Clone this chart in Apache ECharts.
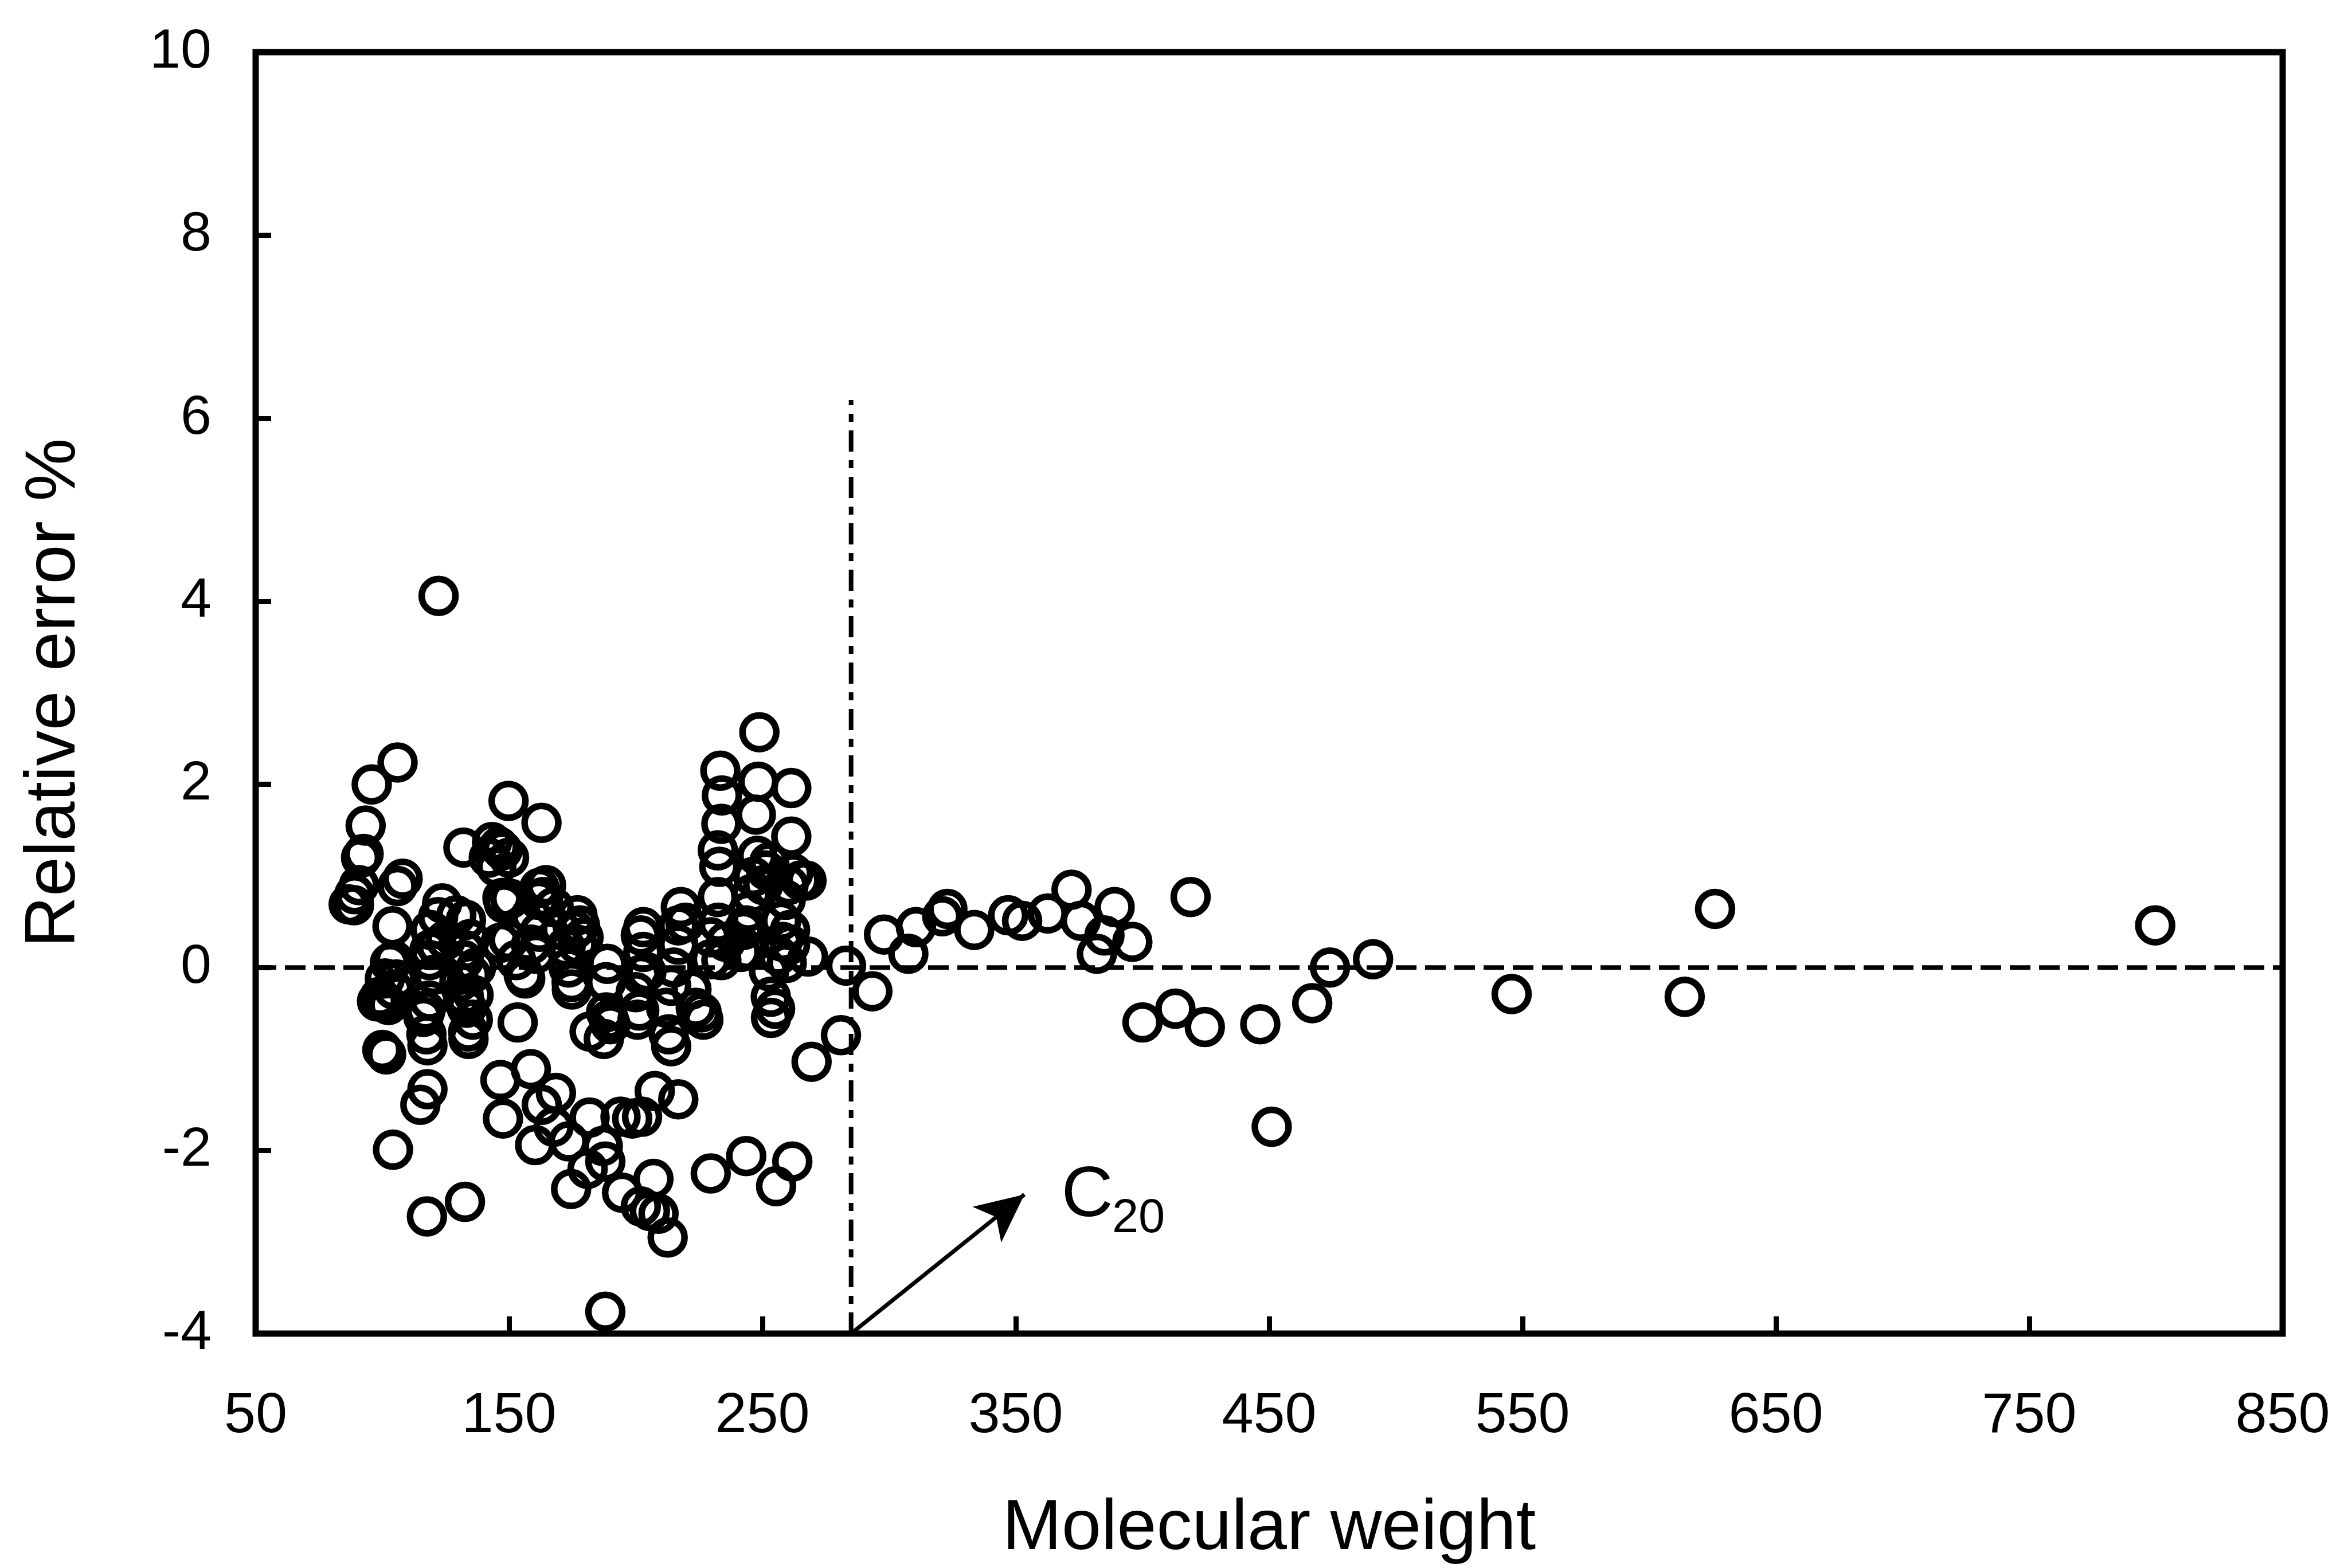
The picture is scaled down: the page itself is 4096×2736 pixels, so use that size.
<!DOCTYPE html>
<html>
<head>
<meta charset="utf-8">
<script src="https://cdn.jsdelivr.net/npm/echarts/dist/echarts.min.js"></script>
<style>
html,body{margin:0;padding:0;background:#ffffff;}
#chart{width:4096px;height:2736px;}
</style>
</head>
<body>
<div id="chart"></div>
<script>
// ---- data ----
const molWeight = [
  86.7, 88.8, 89.0, 90.8, 91.6, 92.6, 93.4, 95.8, 106.0, 97.9,
  99.0, 100.0, 101.5, 102.4, 101.0, 103.0, 104.0, 104.4, 105.6, 104.2,
  106.0, 108.0, 104.5, 100.5,
  122.2, 115.0, 117.8, 116.2, 117.0, 117.4, 117.8, 117.6, 118.6, 118.6,
  118.6, 119.0, 120.3, 121.5, 123.6, 122.0, 125.0, 129.2, 130.4, 132.0,
  132.1, 132.1, 132.6, 132.6, 133.0, 133.3, 133.9, 134.0, 134.5, 135.0,
  135.7, 132.6, 137.0, 136.0,
  142.0, 143.3, 146.0, 147.4, 150.0, 145.0, 147.4, 146.6, 149.9, 148.0,
  150.5, 149.8, 152.8, 153.4, 155.8, 146.6, 147.6, 158.6, 158.7, 158.7,
  160.6, 160.3, 161.7, 162.0, 162.0, 162.8, 162.9, 163.5, 164.6, 167.6,
  168.5, 167.6, 156.4,
  170.5, 172.3, 173.5, 174.7, 175.9, 177.0, 177.0, 178.0, 179.4, 173.5,
  174.5, 181.0, 181.8, 181.8, 187.0, 187.4, 188.3, 188.3, 188.8, 189.4,
  188.0, 188.0, 190.0, 194.6, 194.0, 198.6, 200.0, 200.7, 174.8,
  201.4, 202.0, 202.0, 203.0, 203.0, 204.2, 202.5, 202.0, 205.6, 207.0,
  207.5, 209.0, 212.6, 212.0, 213.0, 214.0, 214.0, 215.0, 216.8, 216.8,
  216.8, 217.8, 219.6, 222.0, 223.7, 226.0, 226.7, 229.6, 229.6, 229.6,
  232.4, 232.4, 232.6, 233.0, 233.4, 233.8, 233.8, 234.0, 235.5, 241.4,
  242.6, 243.6, 244.0, 244.4, 245.6, 246.4, 247.4, 248.0, 248.4, 248.8,
  250.3, 251.5, 252.7, 252.6, 253.3, 253.4, 255.4, 256.2, 257.9, 257.4,
  259.2, 259.6, 260.3, 260.9, 260.9, 261.4, 261.4, 261.8, 262.1, 265.0,
  267.4, 268.0, 269.4, 243.6, 255.0,
  281.0, 283.0, 293.4, 298.0, 307.6, 310.6, 321.0, 323.0, 333.6, 347.0,
  352.5, 362.6, 372.0, 375.6, 382.0, 385.0, 389.0, 396.0, 400.0, 413.0,
  419.0, 424.6, 446.5, 451.0, 467.0, 474.0, 491.0, 545.7, 614.0, 626.0,
  799.7
];
const relError = [
  0.69, 0.68, 0.80, 0.90, 1.20, 1.24, 1.55, 2.00, 2.24, -0.37,
  -0.32, -0.90, -0.95, -0.41, -0.12, 0.05, 0.45, -0.24, -0.13, -1.99,
  0.89, 0.97, 0.08, -0.38,
  4.06, -1.50, -1.33, -0.54, -0.47, -0.73, -0.85, -2.72, -0.36, 0.08,
  0.19, 0.41, -0.08, 0.23, 0.70, 0.55, 0.30, 0.57, -0.16, 1.31,
  -0.31, 0.08, 0.19, -0.39, 0.52, -0.44, -0.70, -0.78, 0.31, -0.08,
  -0.57, -2.56, 0.00, -0.30,
  1.20, 1.37, 1.32, 1.28, 1.20, 1.10, 0.76, 0.27, 0.30, 0.70,
  0.75, 1.82, 0.08, -0.60, -0.08, -1.23, -1.65, -1.11, 0.25, 0.57,
  0.15, -1.94, 0.74, 0.87, 0.39, 1.58, -1.50, 0.77, 0.90, 0.66,
  -1.37, -1.74, -0.12,
  0.41, 0.22, 0.00, -0.16, 0.41, 0.57, 0.25, 0.46, 0.33, -1.90,
  -2.42, -2.20, -1.64, -0.70, -1.95, -0.78, -0.49, -0.16, 0.04, -0.57,
  -3.76, -2.12, -0.62, -2.46, -1.63, -1.65, -0.27, -0.57, -0.24,
  -0.47, -0.08, 0.35, 0.17, 0.44, -0.05, -1.63, -2.61, -2.66, -2.31,
  -1.35, -2.69, -2.95, -0.44, -0.73, -0.20, -0.86, 0.00, 0.46, 0.25,
  -1.44, 0.66, 0.49, -0.24, -0.44, -0.49, -0.57, 0.33, 0.09, -2.25,
  1.28, 0.77, 0.49, 1.10, 2.15, 1.57, 0.08, 1.88, 0.28, 0.17,
  0.41, -2.06, 0.19, 0.61, 0.80, 0.99, 1.67, 1.22, 2.03, 2.57,
  0.90, 1.06, 1.15, -0.04, -0.32, -0.55, -2.39, 0.13, 0.28, 0.51,
  0.74, 0.05, 0.90, 0.41, 0.25, 1.96, 1.43, -2.12, 1.03, 0.95,
  0.95, 0.12, -1.03, 0.46, -0.45,
  -0.74, 0.02, -0.26, 0.36, 0.15, 0.44, 0.56, 0.64, 0.41, 0.57,
  0.51, 0.59, 0.85, 0.51, 0.15, 0.35, 0.66, 0.28, -0.60, -0.45,
  0.77, -0.65, -0.62, -1.74, -0.39, 0.00, 0.09, -0.29, -0.32, 0.64,
  0.46
];
const xTickValues = [50, 150, 250, 350, 450, 550, 650, 750, 850];
const yTickValues = [-4, -2, 0, 2, 4, 6, 8, 10];
const zeroLineX = [50, 850];
const c20LineX = 285;
const c20LineY = [-4, 6.2];
const arrowFrom = [285, -4];
const arrowTo = [353.4, -2.48];
const c20Main = [368, -2.50];
const c20Sub = [388, -2.75];
const xTitle = 'Molecular weight';
const yTitle = 'Relative error %';

// ---- chart ----
const FONT = "'Liberation Sans', Arial, Helvetica, sans-serif";
const points = molWeight.map((m, i) => [m, relError[i]]);

const chart = echarts.init(document.getElementById('chart'), null, {renderer: 'canvas'});
chart.setOption({
  animation: false,
  backgroundColor: '#ffffff',
  grid: {
    left: 446, right: 114, top: 91, bottom: 408,
    show: true, borderColor: '#000', borderWidth: 11, backgroundColor: 'transparent'
  },
  xAxis: {
    type: 'value',
    min: xTickValues[0], max: xTickValues[xTickValues.length - 1], interval: 100,
    axisLine: {show: false, onZero: false},
    axisTick: {show: true, inside: true, length: 30, lineStyle: {color: '#000', width: 9}},
    splitLine: {show: false},
    axisLabel: {color: '#000', fontFamily: FONT, fontSize: 99, margin: 95},
    name: xTitle, nameLocation: 'middle', nameGap: 280,
    nameTextStyle: {color: '#000', fontFamily: FONT, fontSize: 124}
  },
  yAxis: {
    type: 'value',
    min: yTickValues[0], max: yTickValues[yTickValues.length - 1], interval: 2,
    axisLine: {show: false, onZero: false},
    axisTick: {show: true, inside: true, length: 27, lineStyle: {color: '#000', width: 9}},
    splitLine: {show: false},
    axisLabel: {color: '#000', fontFamily: FONT, fontSize: 97, margin: 77},
    name: yTitle, nameLocation: 'middle', nameGap: 288, nameRotate: 90,
    nameTextStyle: {color: '#000', fontFamily: FONT, fontSize: 124}
  },
  series: [
    {
      type: 'line', name: 'zero',
      data: zeroLineX.map(x => [x, 0]),
      symbol: 'none', silent: true, z: 1,
      lineStyle: {color: '#000', width: 8, type: [36, 15]}
    },
    {
      type: 'line', name: 'c20line',
      data: c20LineY.map(y => [c20LineX, y]),
      symbol: 'none', silent: true, z: 1,
      lineStyle: {color: '#000', width: 8, type: [37, 15, 14, 15]}
    },
    {
      type: 'scatter', name: 'points',
      data: points,
      symbol: 'circle', symbolSize: 59, z: 3,
      itemStyle: {color: 'rgba(0,0,0,0)', borderColor: '#000', borderWidth: 11.5, opacity: 1}
    },
    {
      type: 'scatter', name: 'annot',
      data: [
        {value: c20Main, label: {formatter: 'C', fontSize: 125, color: '#000'}},
        {value: c20Sub, label: {formatter: '20', fontSize: 83, color: '#000'}}
      ],
      symbolSize: 0, silent: true, z: 4,
      itemStyle: {opacity: 1},
      label: {show: true, position: 'right', distance: 0, color: '#000', opacity: 1, fontFamily: FONT, align: 'left', verticalAlign: 'middle'},
      markLine: {
        silent: true, animation: false,
        symbol: ['none', 'arrow'], symbolSize: [60, 84],
        lineStyle: {color: '#000', width: 7, type: 'solid', opacity: 1},
        itemStyle: {color: '#000'},
        label: {show: false},
        data: [[{coord: arrowFrom}, {coord: arrowTo}]]
      }
    }
  ]
});
</script>
</body>
</html>
